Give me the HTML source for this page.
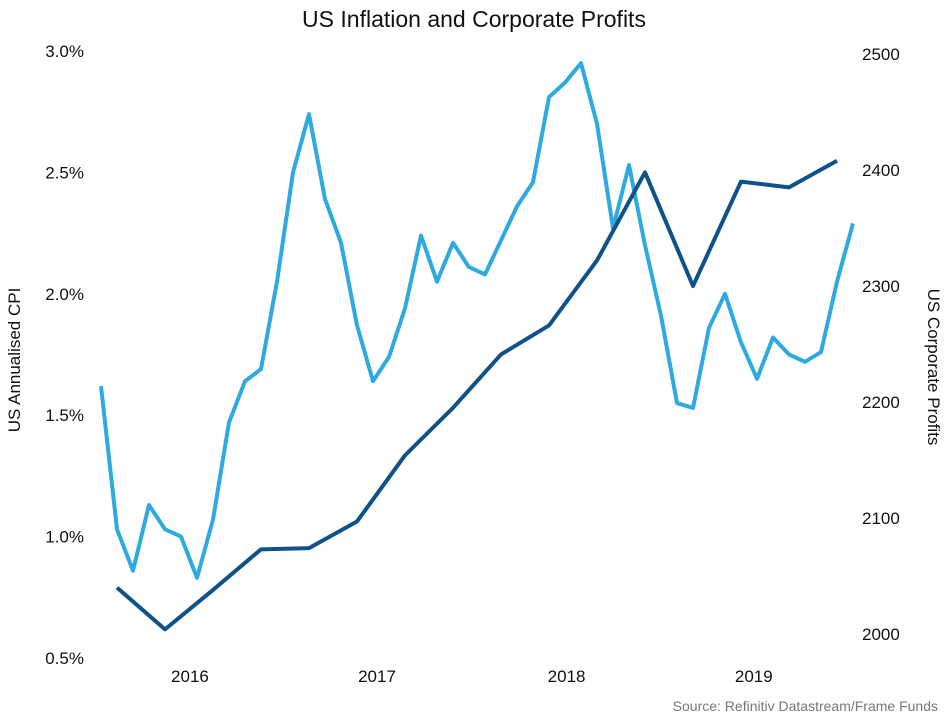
<!DOCTYPE html>
<html><head><meta charset="utf-8"><style>
body{margin:0;background:#fff;font-family:"Liberation Sans",Arial,sans-serif}
svg text{font-family:"Liberation Sans",Arial,sans-serif}
</style></head><body>
<svg id="chart" width="948" height="715" viewBox="0 0 948 715" xmlns="http://www.w3.org/2000/svg">
<text x="474" y="27" text-anchor="middle" font-size="23" fill="#111">US Inflation and Corporate Profits</text>
<text transform="translate(20,360) rotate(-90)" text-anchor="middle" font-size="17" fill="#111">US Annualised CPI</text>
<text transform="translate(928,367) rotate(90)" text-anchor="middle" font-size="17" fill="#111">US Corporate Profits</text>
<text x="938" y="711" text-anchor="end" font-size="14" fill="#777">Source: Refinitiv Datastream/Frame Funds</text>
<g id="axes"></g>
<g id="series"></g>
</svg>
<script>
const cpiValues=[1.62,1.03,0.86,1.13,1.03,1.00,0.83,1.07,1.47,1.64,1.69,2.05,2.50,2.74,2.39,2.21,1.87,1.64,1.74,1.94,2.24,2.05,2.21,2.11,2.08,2.22,2.36,2.46,2.81,2.87,2.95,2.70,2.27,2.53,2.20,1.91,1.55,1.53,1.86,2.00,1.80,1.65,1.82,1.75,1.72,1.76,2.05,2.29];
const profitMonthIdx=[1,4,7,10,13,16,19,22,25,28,31,34,37,40,43,46];
const profitValues=[2040,2004,2038,2073,2074,2097,2154,2195,2241,2266,2322,2398,2300,2390,2385,2408];
const leftTicks=[0.5,1.0,1.5,2.0,2.5,3.0];
const rightTicks=[2000,2100,2200,2300,2400,2500];
const yearLabels=["2016","2017","2018","2019"];
const yearIdx=[5.56,17.25,29.1,40.8];
const NS="http://www.w3.org/2000/svg";
const x=i=>101+i*16;
const yL=v=>51+(3.0-v)*242.8;
const yR=v=>54+(2500-v)*1.16;
const axes=document.getElementById('axes'),series=document.getElementById('series');
function txt(g,x0,y0,s,anchor){const t=document.createElementNS(NS,'text');t.setAttribute('x',x0);t.setAttribute('y',y0);t.setAttribute('text-anchor',anchor);t.setAttribute('font-size','17');t.setAttribute('fill','#111');t.textContent=s;g.appendChild(t);return t;}
leftTicks.forEach(v=>{const t=txt(axes,84,yL(v)+6,v.toFixed(1)+'%','end');

});
rightTicks.forEach(v=>{const t=txt(axes,862,yR(v)+6,String(v),'start');

});
yearLabels.forEach((s,k)=>{const t=txt(axes,x(yearIdx[k]),682,s,'middle');

});
function line(pts,color,name){const p=document.createElementNS(NS,'polyline');p.setAttribute('points',pts.map(q=>q.join(',')).join(' '));p.setAttribute('fill','none');p.setAttribute('stroke',color);p.setAttribute('stroke-width','4');p.setAttribute('stroke-linejoin','round');


series.appendChild(p);}
line(cpiValues.map((v,i)=>[x(i),yL(v)]),'#2eaae1','cpi-line');
line(profitValues.map((v,k)=>[x(profitMonthIdx[k]),yR(v)]),'#0f5189','profits-line');
</script>
</body></html>
